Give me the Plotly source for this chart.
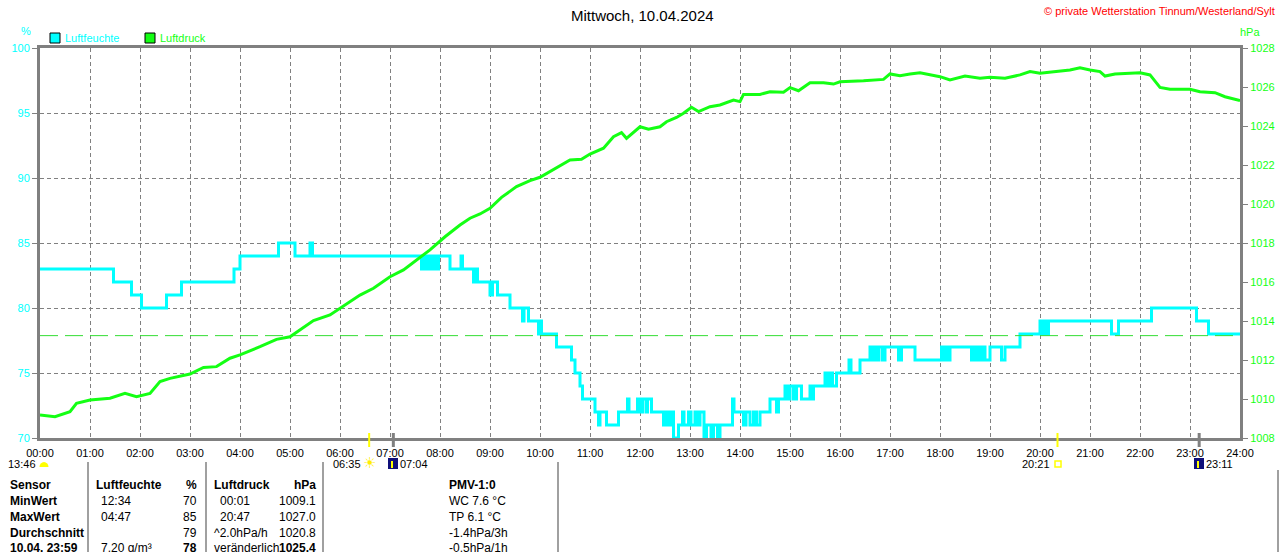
import math
import plotly.graph_objects as go

# ---- Daten ----
hour_labels = ["%02d:00" % h for h in range(25)]

# Luftfeuchte: Zeitpunkte der Aenderung (Stunden) und Wert in %
hum_t = [0.0, 1.47, 1.83, 2.03, 2.53, 2.83, 3.88, 4.0, 4.77, 5.1, 5.40, 5.45,
         7.63, 7.68, 7.72, 7.78, 7.82, 7.88, 7.92, 7.97, 8.2, 8.42, 8.45, 8.67,
         8.72, 8.75, 9.0, 9.05, 9.15, 9.4, 9.65, 9.68, 9.77, 9.97, 10.0, 10.03,
         10.33, 10.63, 10.7, 10.8, 10.85, 11.1, 11.17, 11.2, 11.33, 11.57, 11.75,
         11.78, 11.95, 12.0, 12.05, 12.12, 12.15, 12.23, 12.47, 12.52, 12.57,
         12.62, 12.67, 12.77, 12.85, 12.88, 12.97, 13.02, 13.1, 13.15, 13.2,
         13.28, 13.33, 13.42, 13.47, 13.55, 13.6, 13.85, 13.88, 14.07, 14.12,
         14.2, 14.27, 14.33, 14.4, 14.6, 14.73, 14.77, 14.9, 14.95, 15.0, 15.07,
         15.13, 15.23, 15.4, 15.43, 15.47, 15.7, 15.75, 15.8, 15.85, 15.93,
         16.18, 16.22, 16.4, 16.6, 16.63, 16.67, 16.72, 16.78, 16.85, 16.9,
         17.17, 17.23, 17.5, 18.03, 18.07, 18.1, 18.15, 18.2, 18.63, 18.67,
         18.72, 18.77, 18.82, 18.87, 18.9, 19.0, 19.23, 19.3, 19.6, 20.0, 20.05,
         20.1, 20.13, 20.17, 21.43, 21.57, 22.23, 23.13, 23.37, 24.0]
hum_v = [83, 82, 81, 80, 81, 82, 83, 84, 85, 84, 85, 84,
         83, 84, 83, 84, 83, 84, 83, 84, 83, 84, 83, 82,
         83, 82, 81, 82, 81, 80, 79, 80, 79, 78, 79, 78,
         77, 76, 75, 74, 73, 72, 71, 72, 71, 72, 73,
         72, 73, 72, 73, 72, 73, 72, 71, 72, 71,
         72, 70, 71, 72, 71, 72, 71, 72, 71, 72,
         70, 71, 70, 71, 70, 71, 73, 72, 71, 72,
         71, 72, 71, 72, 73, 72, 73, 74, 73, 74, 73,
         74, 73, 74, 73, 74, 75, 74, 75, 74, 75,
         76, 75, 76, 77, 76, 77, 76, 77, 76, 77,
         76, 77, 76, 77, 76, 77, 76, 77, 76, 77,
         76, 77, 76, 77, 76, 77, 76, 77, 78, 79, 78,
         79, 78, 79, 78, 79, 80, 79, 78, 78]

# Luftdruck in hPa
press_t = [0.0, 0.3, 0.6, 0.73, 1.0, 1.4, 1.7, 1.93, 2.2, 2.4, 2.6, 2.87, 3.0,
           3.27, 3.53, 3.8, 4.0, 4.4, 4.73, 5.0, 5.2, 5.47, 5.8, 6.0, 6.4, 6.67,
           7.0, 7.27, 7.53, 7.8, 8.1, 8.4, 8.6, 8.8, 9.0, 9.23, 9.53, 9.8, 10.0,
           10.33, 10.6, 10.83, 11.0, 11.27, 11.47, 11.63, 11.73, 12.0, 12.17,
           12.4, 12.53, 12.73, 12.87, 13.03, 13.17, 13.4, 13.6, 13.87, 14.0,
           14.07, 14.4, 14.6, 14.87, 15.0, 15.17, 15.4, 15.67, 15.87, 16.0,
           16.47, 16.87, 17.0, 17.2, 17.4, 17.6, 18.0, 18.2, 18.5, 18.8, 19.0,
           19.3, 19.6, 19.8, 20.0, 20.3, 20.6, 20.8, 21.0, 21.2, 21.3, 21.5,
           22.0, 22.2, 22.4, 22.6, 23.0, 23.2, 23.5, 23.7, 24.0]
press_v = [1009.18, 1009.09, 1009.35, 1009.78, 1009.95, 1010.04, 1010.29,
           1010.12, 1010.29, 1010.89, 1011.06, 1011.23, 1011.28, 1011.62,
           1011.66, 1012.09, 1012.26, 1012.68, 1013.06, 1013.19, 1013.54,
           1014.02, 1014.31, 1014.65, 1015.33, 1015.68, 1016.27, 1016.62,
           1017.13, 1017.65, 1018.32, 1018.92, 1019.27, 1019.49, 1019.78,
           1020.34, 1020.89, 1021.2, 1021.37, 1021.88, 1022.26, 1022.29,
           1022.56, 1022.86, 1023.45, 1023.66, 1023.37, 1023.96, 1023.83,
           1023.96, 1024.22, 1024.44, 1024.65, 1024.96, 1024.74, 1024.99,
           1025.08, 1025.33, 1025.25, 1025.62, 1025.62, 1025.76, 1025.73,
           1025.97, 1025.81, 1026.22, 1026.22, 1026.15, 1026.27, 1026.32,
           1026.39, 1026.67, 1026.58, 1026.67, 1026.73, 1026.53, 1026.36,
           1026.56, 1026.45, 1026.5, 1026.45, 1026.62, 1026.79, 1026.7,
           1026.79, 1026.87, 1026.99, 1026.87, 1026.79, 1026.56, 1026.67,
           1026.73, 1026.62, 1025.98, 1025.88, 1025.88, 1025.76, 1025.71,
           1025.5, 1025.3]

norm_press = 1013.25  # Normaldruck (gestrichelte Linie)

# Sonne / Mond (Stunden)
sunrise, sunset = 6 + 35 / 60, 20 + 21 / 60
moonrise, moonset = 7 + 4 / 60, 23 + 11 / 60

# Tabelle unten
table_rows = [
    ["Sensor", "Luftfeuchte", "%", "Luftdruck", "hPa", "PMV-1:0"],
    ["MinWert", "12:34", "70", "00:01", "1009.1", "WC 7.6 °C"],
    ["MaxWert", "04:47", "85", "20:47", "1027.0", "TP 6.1 °C"],
    ["Durchschnitt", "", "79", "^2.0hPa/h", "1020.8", "-1.4hPa/3h"],
    ["10.04. 23:59", "7.20 g/m³", "<b>78</b>", "veränderlich", "<b>1025.4</b>", "-0.5hPa/1h"],
]

FONT = "Liberation Sans, Arial, sans-serif"
GRAY = "#808080"
CYAN = "#00ffff"
GREEN = "#14ff14"


def xp(px):
    return (px - 40) / 1200


def yp(py):
    return (438 - py) / 390


def label(text, x, y, anchor="center", size=11, color="black", family=FONT):
    return dict(text=text, x=xp(x), y=yp(y), xref="paper", yref="paper",
                xanchor=anchor, yanchor="middle", showarrow=False,
                font=dict(size=size, color=color, family=family))


fig = go.Figure()

fig.add_trace(go.Scatter(x=hum_t, y=hum_v, mode="lines", line_shape="hv",
                         line=dict(color=CYAN, width=3), name="Luftfeuchte",
                         yaxis="y"))
fig.add_trace(go.Scatter(x=[0, 24], y=[norm_press, norm_press], mode="lines",
                         line=dict(color="#33dd33", width=1, dash="18px,7px"),
                         yaxis="y2", showlegend=False))
fig.add_trace(go.Scatter(x=press_t, y=press_v, mode="lines",
                         line=dict(color=GREEN, width=3), name="Luftdruck",
                         yaxis="y2"))

ann = []
shapes = []

ann.append(label("Mittwoch, 10.04.2024", 642, 15, size=15))
ann.append(label("© private Wetterstation Tinnum/Westerland/Sylt", 1277, 11,
                 anchor="right", color="#ff0000"))
ann.append(label("%", 26, 31, color=CYAN))
ann.append(label("hPa", 1250, 32, color=GREEN))

# Legende
for x0, col, name in [(50, CYAN, "Luftfeuchte"), (145, GREEN, "Luftdruck")]:
    shapes.append(dict(type="rect", xref="paper", yref="paper", x0=xp(x0), x1=xp(x0 + 10),
                       y0=yp(43), y1=yp(33), fillcolor=col, line=dict(color="black", width=1)))
    ann.append(label(name, x0 + 13, 38, anchor="left", color=col))

# Sonne / Mond Markierungen an der Zeitachse
for h, col, w in [(sunrise, "#ffff00", 2), (moonrise, GRAY, 3),
                  (sunset, "#ffff00", 2), (moonset, GRAY, 3)]:
    shapes.append(dict(type="line", xref="x", yref="paper", x0=h, x1=h,
                       y0=yp(447), y1=yp(433), line=dict(color=col, width=w)))

ann.append(label("13:46", 38, 464, anchor="right"))
ann.append(label("06:35", 363, 464, anchor="right"))
ann.append(label("07:04", 398, 464, anchor="left"))
ann.append(label("20:21", 1052, 464, anchor="right"))
ann.append(label("23:11", 1204, 464, anchor="left"))
ann.append(label("☀", 369, 463, size=15, color="#ffee00", family="DejaVu Sans"))

# Mond-Symbole (blaues Kaestchen mit gelbem Pfeil)
for cx in [393, 1199]:
    shapes.append(dict(type="rect", xref="paper", yref="paper", x0=xp(cx - 5), x1=xp(cx + 5),
                       y0=yp(469), y1=yp(458), fillcolor="#10107a", line=dict(width=0)))
    shapes.append(dict(type="line", xref="paper", yref="paper", x0=xp(cx - 1), x1=xp(cx - 1),
                       y0=yp(468), y1=yp(461), line=dict(color="#ffff00", width=2)))
# Untergang-Symbol links
pts = [(44 + 4.5 * math.cos(a * math.pi / 8), 467 - 5 * math.sin(a * math.pi / 8)) for a in range(9)]
path = "M " + " L ".join("%f,%f" % (xp(x), yp(y)) for x, y in pts) + " Z"
shapes.append(dict(type="path", xref="paper", yref="paper", path=path,
                   fillcolor="#ffff00", line=dict(width=0)))
shapes.append(dict(type="rect", xref="paper", yref="paper", x0=xp(1055), x1=xp(1061),
                   y0=yp(467), y1=yp(461), line=dict(color="#ffff00", width=1.5)))

# Tabelle
for lx, top in [(88, 462), (206, 462), (323, 462), (558, 462), (1278, 470)]:
    shapes.append(dict(type="line", xref="paper", yref="paper", x0=xp(lx), x1=xp(lx),
                       y0=yp(top), y1=yp(560), line=dict(color=GRAY, width=1.5)))

row_y = [485, 501, 517, 533, 548]
for i, row in enumerate(table_rows):
    y = row_y[i]
    head = i == 0

    def txt(s):
        return "<b>%s</b>" % s if head and s else s

    ann.append(label("<b>%s</b>" % row[0], 8, y, anchor="left", size=12))
    ann.append(label(txt(row[1]), 94 if head else 99, y, anchor="left", size=12))
    ann.append(label(txt(row[2]), 199, y, anchor="right", size=12))
    ann.append(label(txt(row[3]), 212 if (head or i >= 3) else 218, y, anchor="left", size=12))
    ann.append(label(txt(row[4]), 318, y, anchor="right", size=12))
    if head:
        ann.append(label(txt(row[5]), 472, y, size=12))
    else:
        ann.append(label(row[5], 447, y, anchor="left", size=12))

fig.update_layout(
    width=1280, height=552,
    margin=dict(l=40, r=40, t=48, b=114, autoexpand=False),
    paper_bgcolor="white", plot_bgcolor="white",
    showlegend=False,
    font=dict(family=FONT, size=11, color="black"),
    xaxis=dict(range=[0, 24], tickvals=list(range(25)), ticktext=hour_labels,
               showgrid=True, gridcolor=GRAY, griddash="4px,3px", gridwidth=1,
               showline=True, linecolor=GRAY, linewidth=3, mirror=True,
               zeroline=False, ticks="", ticklabelstandoff=3,
               tickfont=dict(size=11, color="black")),
    yaxis=dict(range=[70, 100], dtick=5, showgrid=True, gridcolor=GRAY,
               griddash="4px,3px", gridwidth=1, showline=True, linecolor=GRAY,
               linewidth=3, zeroline=False, ticks="outside", ticklen=5, tickcolor=GRAY,
               tickfont=dict(size=11, color=CYAN)),
    yaxis2=dict(range=[1008, 1028], dtick=2, overlaying="y", side="right",
                showgrid=False, showline=True, linecolor=GRAY, linewidth=3,
                zeroline=False, ticks="outside", ticklen=5, tickcolor=GRAY,
                tickfont=dict(size=11, color=GREEN)),
    annotations=ann,
    shapes=shapes,
)

fig.write_html("out.html", config={"displayModeBar": False},
               post_script="document.body.style.margin='0';")
